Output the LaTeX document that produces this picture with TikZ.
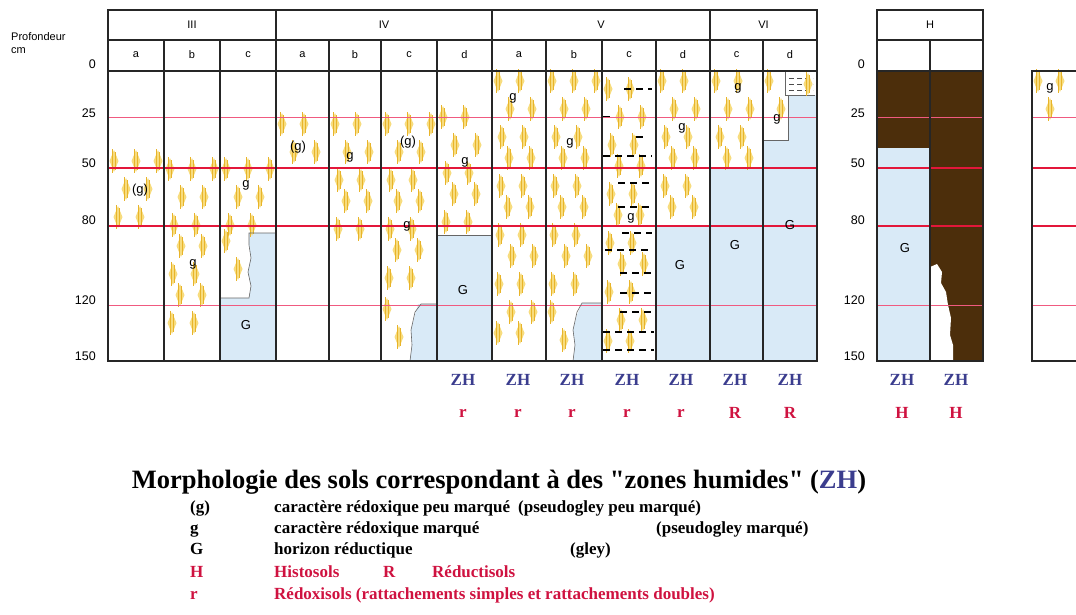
\documentclass[tikz,border=0pt]{standalone}
\usepackage{fontspec}
\setmainfont{Liberation Serif}
\setsansfont{Liberation Sans}
\usetikzlibrary{positioning}
\definecolor{SolBleu}{HTML}{D9EAF7}
\definecolor{SolTourbe}{HTML}{4C2E0B}
\definecolor{SolJaune}{HTML}{F7DC7E}
\definecolor{SolOr}{HTML}{E8B42A}
\definecolor{LigneRouge}{HTML}{E3173A}
\definecolor{LigneRose}{HTML}{F05A80}
\definecolor{ZHBleu}{HTML}{3B3D8E}
\definecolor{ClasseRouge}{HTML}{CF1240}

% straight double quote, kept out of the tex-text mapping
\newcommand{\droitguill}{\XeTeXglyph\XeTeXcharglyph"22\relax}
% one rusty mottle (pseudogley)
\newcommand{\tache}[2]{%
  \fill[SolJaune] (#1,#2-11) -- (#1+4.5,#2) -- (#1,#2+11) -- (#1-4.5,#2) -- cycle;
  \draw[SolOr,line width=0.6pt] (#1-1.4,#2-12) -- (#1-1.4,#2+12) (#1+1.4,#2-9) -- (#1+1.4,#2+9);}
% mottles over a zone: x0, x1, y0, y1
\newcommand{\taches}[4]{%
  \foreach \r in {0,...,13} {
    \pgfmathsetmacro{\ty}{#3+12+25*\r}
    \pgfmathsetmacro{\dx}{mod(\r,2)*10}
    \ifdim\ty pt<\dimexpr#4pt-6pt\relax
      \foreach \c in {0,...,3} {
        \pgfmathsetmacro{\tx}{#1+8+\dx+22*\c+mod(\r*7+\c*5,5)-2}
        \pgfmathsetmacro{\tyj}{\ty+mod(\r*3+\c*7,7)-3}
        \ifdim\tx pt<\dimexpr#2pt-5pt\relax \tache{\tx}{\tyj}\fi
      }
    \fi
  }}

\begin{document}
\begin{tikzpicture}[x=1pt,y=-1pt,
  grille/.style={line width=1.2pt,black!85},
  contour/.style={line width=0.6pt,black!60},
  tete/.style={font=\sffamily\fontsize{11}{12}\selectfont},
  prof/.style={font=\sffamily\fontsize{12.5}{14}\selectfont,anchor=east,inner sep=0pt},
  lettre/.style={font=\sffamily\fontsize{13}{14}\selectfont,inner sep=0pt},
  zh/.style={font=\bfseries\fontsize{17}{19}\selectfont,ZHBleu},
  classe/.style={font=\bfseries\fontsize{17}{19}\selectfont,ClasseRouge},
  legende/.style={font=\bfseries\fontsize{17}{19}\selectfont,anchor=base west,inner sep=0pt}]

  \useasboundingbox (0,0) rectangle (1076,614);

  % gley (blue) and peat (brown)
  \fill[SolBleu] (249,233) -- (276,233) -- (276,361) -- (220,361) -- (220,298) -- (249,298)
    -- (251,286) -- (248,272) -- (251,258) -- (249,245) -- cycle;
  \fill[SolBleu] (418,304) -- (437,304) -- (437,361) -- (410,361) -- (412,345) -- (411,330)
    -- (415,315) -- cycle;
  \fill[SolBleu] (437,235) rectangle (492,361);
  \fill[SolBleu] (582,303) -- (602,303) -- (602,361) -- (573,361) -- (575,345) -- (573,330)
    -- (577,315) -- cycle;
  \fill[SolBleu] (656,226) rectangle (710,361);
  \fill[SolBleu] (710,168) rectangle (763,361);
  \fill[SolBleu] (788,95) -- (817,95) -- (817,361) -- (763,361) -- (763,140) -- (788,140) -- cycle;
  \fill[SolBleu] (877,148) rectangle (930,361);
  \fill[SolTourbe] (877,71) rectangle (930,148);
  \fill[SolTourbe] (930,71) rectangle (983,361);
  \fill[white] (930,267) -- (937,264) -- (942,272) -- (941,283) -- (946,292) -- (948,305)
    -- (951,318) -- (950,335) -- (953,345) -- (953,361) -- (930,361) -- cycle;

  % mottles
  \taches{108}{164}{152}{232}
  \taches{164}{220}{160}{345}
  \taches{220}{276}{160}{232}
  \taches{220}{252}{232}{298}
  \taches{276}{329}{115}{182}
  \taches{329}{381}{115}{242}
  \taches{381}{437}{115}{300}
  \taches{381}{414}{300}{361}
  \taches{437}{492}{108}{234}
  \taches{492}{546}{72}{361}
  \taches{546}{602}{72}{303}
  \taches{546}{578}{303}{361}
  \taches{602}{656}{80}{361}
  \taches{656}{710}{72}{226}
  \taches{710}{763}{72}{168}
  \taches{763}{790}{72}{140}
  \taches{1032}{1076}{72}{124}

  % clayey layers
  \foreach \y/\a/\b in {89/624/652,117/603/612,137/636/647,156/603/652,183/618/652,207/618/652,
      233/622/652,250/605/652,273/620/652,293/620/652,312/620/652,332/603/654,350/603/654}
    \draw[black,line width=1.2pt,dash pattern=on 7pt off 5pt] (\a,\y) -- (\b,\y);
  \fill[white] (785,72) rectangle (815,95);
  \draw[contour] (785,72) -- (785,95) -- (815,95);
  \foreach \y in {78,84,90}
    \draw[black!70,line width=0.7pt,dash pattern=on 5pt off 3pt] (789,\y) -- (813,\y);
  \tache{808}{84}

  % depth markers
  \foreach \y/\w/\c in {117/0.9/LigneRose,168/1.8/LigneRouge,226/1.8/LigneRouge,305/0.9/LigneRose} {
    \draw[line width=\w pt,\c] (108,\y) -- (817,\y);
    \draw[line width=\w pt,\c] (877,\y) -- (983,\y);
    \draw[line width=\w pt,\c] (1032,\y) -- (1076,\y);
  }

  % boundaries of gley zones
  \draw[contour] (276,233) -- (249,233) -- (249,245) -- (251,258) -- (248,272) -- (251,286)
    -- (249,298) -- (220,298);
  \draw[contour] (437,304) -- (421,304) -- (415,312) -- (411,330) -- (412,345) -- (410,361);
  \draw[contour] (437,235) -- (492,235);
  \draw[contour] (602,303) -- (582,303) -- (577,312) -- (573,330) -- (575,345) -- (573,361);
  \draw[contour] (788,95) -- (788,140) -- (763,140);

  % grid
  \draw[grille] (108,10) rectangle (817,361);
  \draw[grille] (108,40) -- (817,40) (108,71) -- (817,71);
  \foreach \x in {276,492,710}
    \draw[grille] (\x,10) -- (\x,361);
  \foreach \x in {164,220,329,381,437,546,602,656,763}
    \draw[grille] (\x,40) -- (\x,361);
  \draw[grille] (877,10) rectangle (983,361);
  \draw[grille] (877,40) -- (983,40) (877,71) -- (983,71) (930,40) -- (930,361);
  \draw[grille] (1090,71) -- (1032,71) -- (1032,361) -- (1090,361);

  % headings
  \foreach \x/\t [count=\i] in {192/III,384/IV,601/V,763.5/VI,930/H}
    \node[tete] (groupe\i) at (\x,25) {\t};
  \foreach \x/\t [count=\i] in {136/a,192/b,248/c,302.5/a,355/b,409/c,464.5/d,
      519/a,574/b,629/c,683/d,736.5/c,790/d}
    \node[tete] (profil\i) at (\x,55) {\t};

  % depth scale
  \node[tete,anchor=west,inner sep=0pt] (profondeur) at (11,37) {Profondeur};
  \node[tete,inner sep=0pt,below=6pt of profondeur.south west,anchor=north west] (unite) {cm};
  \foreach \y/\d [count=\i] in {64/0,113/25,163/50,220/80,300/120,356/150} {
    \node[prof] (echelle\i) at (96,\y) {\d};
    \node[prof] (echelleH\i) at (865,\y) {\d};
  }

  % horizon letters
  \foreach \x/\y/\t [count=\i] in {140/190/(g),193/264/g,246/185/g,246/325/G,298/147/(g),
      350/157/g,408/142/(g),407/226/g,465/162/g,463/290/G,513/98/g,570/143/g,631/218/g,
      682/128/g,680/265/G,738/88/g,735/245/G,777/119/g,790/225/G,905/248/G,1050/88/g}
    \node[lettre] (horizon\i) at (\x,\y) {\t};

  % wetland classes
  \foreach \x/\c [count=\i] in {463/r,518/r,572/r,627/r,681/r,735/R,790/R,902/H,956/H} {
    \node[zh] (zh\i) at (\x,380) {ZH};
    \node[classe] (classe\i) at (\x,413) {\c};
  }

  % caption
  \node[font=\bfseries\fontsize{26.5}{28}\selectfont] (titre) at (499,482)
    {Morphologie des sols correspondant à des \droitguill zones humides\droitguill{} ({\color{ZHBleu}ZH})};
  \node[legende] (sym1) at (190,512) {(g)};
  \node[legende] (txt1) at (274,512) {caractère rédoxique peu marqué};
  \node[legende] (par1) at (518,512) {(pseudogley peu marqué)};
  \node[legende] (sym2) at (190,533) {g};
  \node[legende] (txt2) at (274,533) {caractère rédoxique marqué};
  \node[legende] (par2) at (656,533) {(pseudogley marqué)};
  \node[legende] (sym3) at (190,554) {G};
  \node[legende] (txt3) at (274,554) {horizon réductique};
  \node[legende] (par3) at (570,554) {(gley)};
  \node[legende,ClasseRouge] (sym4) at (190,577) {H};
  \node[legende,ClasseRouge] (txt4) at (274,577) {Histosols};
  \node[legende,ClasseRouge] (sym5) at (383,577) {R};
  \node[legende,ClasseRouge] (txt5) at (432,577) {Réductisols};
  \node[legende,ClasseRouge] (sym6) at (190,599) {r};
  \node[legende,ClasseRouge] (txt6) at (274,599) {Rédoxisols (rattachements simples et rattachements doubles)};
\end{tikzpicture}
\end{document}
